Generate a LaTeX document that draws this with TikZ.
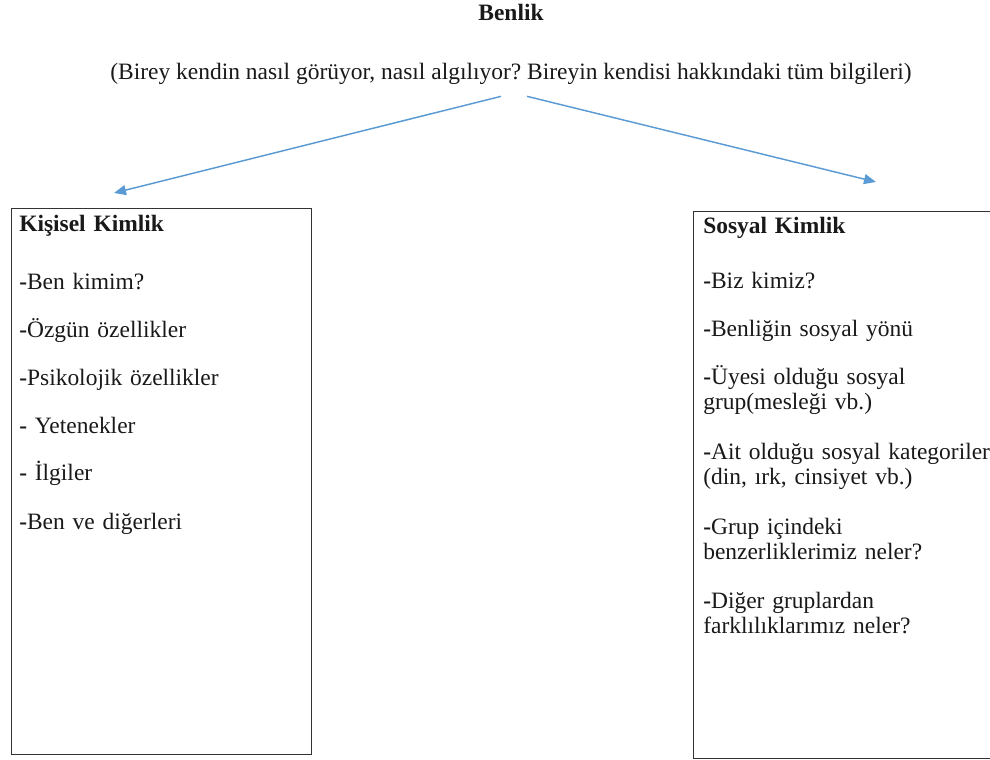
\documentclass[tikz,border=0pt]{standalone}
\usepackage{fontspec}
\setmainfont{Liberation Serif}
\usetikzlibrary{positioning,
                arrows.meta}
\definecolor{okmavi}{RGB}{91,155,213}
\newcommand{\yazifont}{\fontsize{17.6pt}{18.75pt}\selectfont\frenchspacing}
\newcommand{\tire}{\textbf{-}}

\begin{document}
\begin{tikzpicture}[x=0.75pt,y=-0.75pt,
   yazi/.style={font=\yazifont,inner sep=0pt,text=black!90},
   kutu/.style={draw=black!80,line width=1.1pt,anchor=north west,inner sep=0pt},
   liste/.style={yazi,anchor=base west,text width=250pt,align=left},
   ok/.style={draw=okmavi,line width=1.1pt,-{Triangle[length=9pt,width=7.5pt]}}]
 \useasboundingbox (0,0) rectangle (990,760);
 \node[yazi,anchor=base] (benlik) at (511,21) {\textbf{Benlik}};
 \node[yazi,anchor=base] (aciklama) at (511,79)
   {(Birey kendin nasıl görüyor, nasıl algılıyor? Bireyin kendisi hakkındaki tüm bilgileri)};
 \node[kutu,minimum width=225pt,minimum height=409.5pt] (kisisel) at (11,208) {};
 \node[kutu,minimum width=226.5pt,minimum height=410.25pt] (sosyal) at (693,211) {};
 \node[liste] (kisisel-metin) at (19,231)
   {\textbf{Kişisel Kimlik}\\[24.75pt]
    \tire Ben kimim?\\[17.25pt]
    \tire Özgün özellikler\\[17.25pt]
    \tire Psikolojik özellikler\\[17.25pt]
    \tire{} Yetenekler\\[17.25pt]
    \tire{} İlgiler\\[17.25pt]
    \tire Ben ve diğerleri};
 \node[liste] (sosyal-metin) at (703,233)
   {\textbf{Sosyal Kimlik}\\[22.5pt]
    \tire Biz kimiz?\\[17.25pt]
    \tire Benliğin sosyal yönü\\[17.25pt]
    \tire Üyesi olduğu sosyal\\ grup(mesleği vb.)\\[18.75pt]
    \tire Ait olduğu sosyal kategoriler\\ (din, ırk, cinsiyet vb.)\\[18.75pt]
    \tire Grup içindeki\\ benzerliklerimiz neler?\\[18.75pt]
    \tire Diğer gruplardan\\ farklılıklarımız neler?};
 \coordinate (sol-uc) at (114,193);
 \coordinate (sag-uc) at (876,182);
 \draw[ok] ([xshift=-7.5pt,yshift=-9pt]aciklama.south) -- (sol-uc);
 \draw[ok] ([xshift=12pt,yshift=-9pt]aciklama.south) -- (sag-uc);
\end{tikzpicture}
\end{document}
